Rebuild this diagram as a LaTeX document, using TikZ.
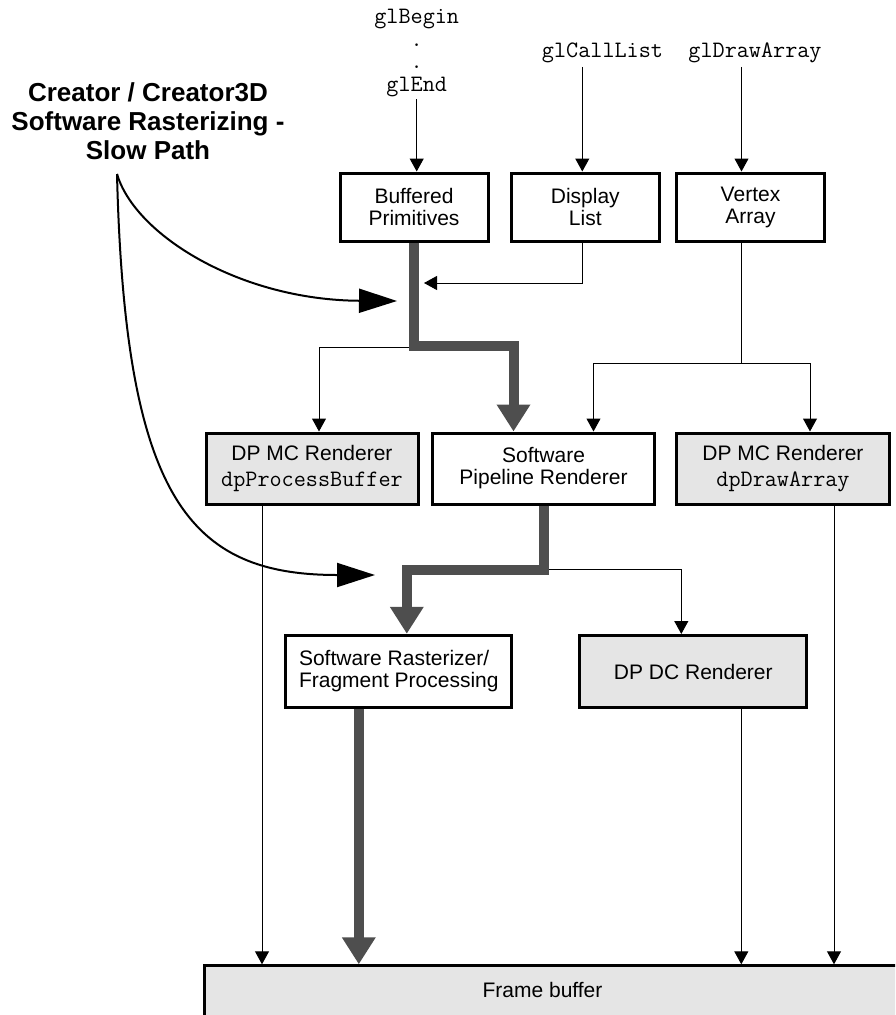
\documentclass[tikz,border=0pt]{standalone}
\usepackage{fontspec}
\setmainfont{Liberation Sans}
\setmonofont{Latin Modern Mono}
\usetikzlibrary{arrows.meta}
\definecolor{boxgray}{RGB}{229,229,229}
\definecolor{fatgray}{RGB}{78,78,78}
\begin{document}
\begin{tikzpicture}[x=1pt, y=-1pt,
    box/.style={draw, line width=3pt, minimum width=148pt, minimum height=68pt,
      align=center, inner sep=2pt, font=\fontsize{21}{22}\selectfont},
    dpbox/.style={box, fill=boxgray},
    call/.style={font=\fontsize{23.5}{22.7}\selectfont\ttfamily, align=center},
    arr/.style={line width=1pt, -{Triangle[length=13pt, width=14pt]}},
    fat/.style={draw=fatgray, line width=10pt, -{Triangle[length=27pt, width=32pt]}},
    curvearrow/.style={line width=2pt, -{Triangle[length=38pt, width=24pt]}}
    ]
    \useasboundingbox (0,0) rectangle (895,1015);
    \clip (0,0) rectangle (895,1015);
    \node[font=\fontsize{26}{29}\selectfont\bfseries, align=center] (slow) at (148,121)
      {Creator / Creator3D\\Software Rasterizing -\\Slow Path};
    \node[call, inner sep=2pt] (glb) at (416.7,53) {glBegin\\.\\.\\glEnd};
    \node[call] (cl) at (602.5,53.3) {glCallList};
    \node[call] (da) at (755,53.3) {glDrawArray};
    \node[box] (buf) at (414,207) {Buffered\\Primitives};
    \node[box] (dl) at (585.3,207) {Display\\List};
    \node[box] (va) at (750.5,207) {Vertex\\Array};
    \node[dpbox, minimum width=212pt, minimum height=71pt] (dpl) at (312,468.5)
      {DP MC Renderer\\[4pt]{\fontsize{23.5}{22}\selectfont\ttfamily dpProcessBuffer}};
    \node[box, minimum width=221.6pt, minimum height=71pt] (swp) at (543.5,468.5)
      {Software\\Pipeline Renderer};
    \node[dpbox, minimum width=212.6pt, minimum height=71pt] (dpr) at (783,468.5)
      {DP MC Renderer\\[4pt]{\fontsize{23.5}{22}\selectfont\ttfamily dpDrawArray}};
    \node[box, minimum width=225.7pt, minimum height=72pt, align=left] (sr) at (398.8,671.3)
      {Software Rasterizer/\\Fragment Processing};
    \node[dpbox, minimum width=226.7pt, minimum height=72pt] (dc) at (693.3,671.5)
      {DP DC Renderer};
    \node[dpbox, anchor=north west, minimum width=760pt, minimum height=120pt] (fb) at (203.3,964.3) {};
    \node[font=\fontsize{21}{22}\selectfont] (fbtext) at (542.5,990) {Frame buffer};
    \coordinate (src) at (117,174);
    \coordinate (tip1) at (397,301);
    \coordinate (tip2) at (375,575);
    \coordinate (vsplit) at ([xshift=-9pt]va.south |- 0,363);
    \draw[arr] (glb.south) -- (glb.south |- buf.north);
    \draw[arr] ([xshift=-3pt]dl.north |- cl.south) -- ([xshift=-3pt]dl.north);
    \draw[arr] ([xshift=-9pt]va.north |- da.south) -- ([xshift=-9pt]va.north);
    \draw[arr] (buf.south |- 0,347) -| ([xshift=7pt]dpl.north);
    \draw[arr] ([xshift=-3pt]dl.south) |- ([xshift=10pt]buf.south |- 0,283);
    \draw[arr] ([xshift=-9pt]va.south) -- (vsplit) -| ([xshift=50pt]swp.north);
    \draw[arr] (vsplit) -| ([xshift=27pt]dpr.north);
    \draw[arr] (swp.south |- 0,569) -| ([xshift=-12pt]dc.north);
    \draw[fat] (buf.south) -- (buf.south |- 0,346) -| ([xshift=-30pt]swp.north);
    \draw[fat] (swp.south) -- (swp.south |- 0,570) -| ([xshift=8pt]sr.north);
    \draw[fat] ([xshift=-40pt]sr.south) -- ([xshift=-40pt]sr.south |- fb.north);
    \draw[arr] ([xshift=-50pt]dpl.south) -- ([xshift=-50pt]dpl.south |- fb.north);
    \draw[arr] ([xshift=48pt]dc.south) -- ([xshift=48pt]dc.south |- fb.north);
    \draw[arr] ([xshift=51pt]dpr.south) -- ([xshift=51pt]dpr.south |- fb.north);
    \draw[curvearrow] (src) .. controls (135,235) and (240,300) .. (tip1);
    \draw[curvearrow] (src) .. controls (125,500) and (190,575) .. (tip2);
  \end{tikzpicture}
\end{document}
